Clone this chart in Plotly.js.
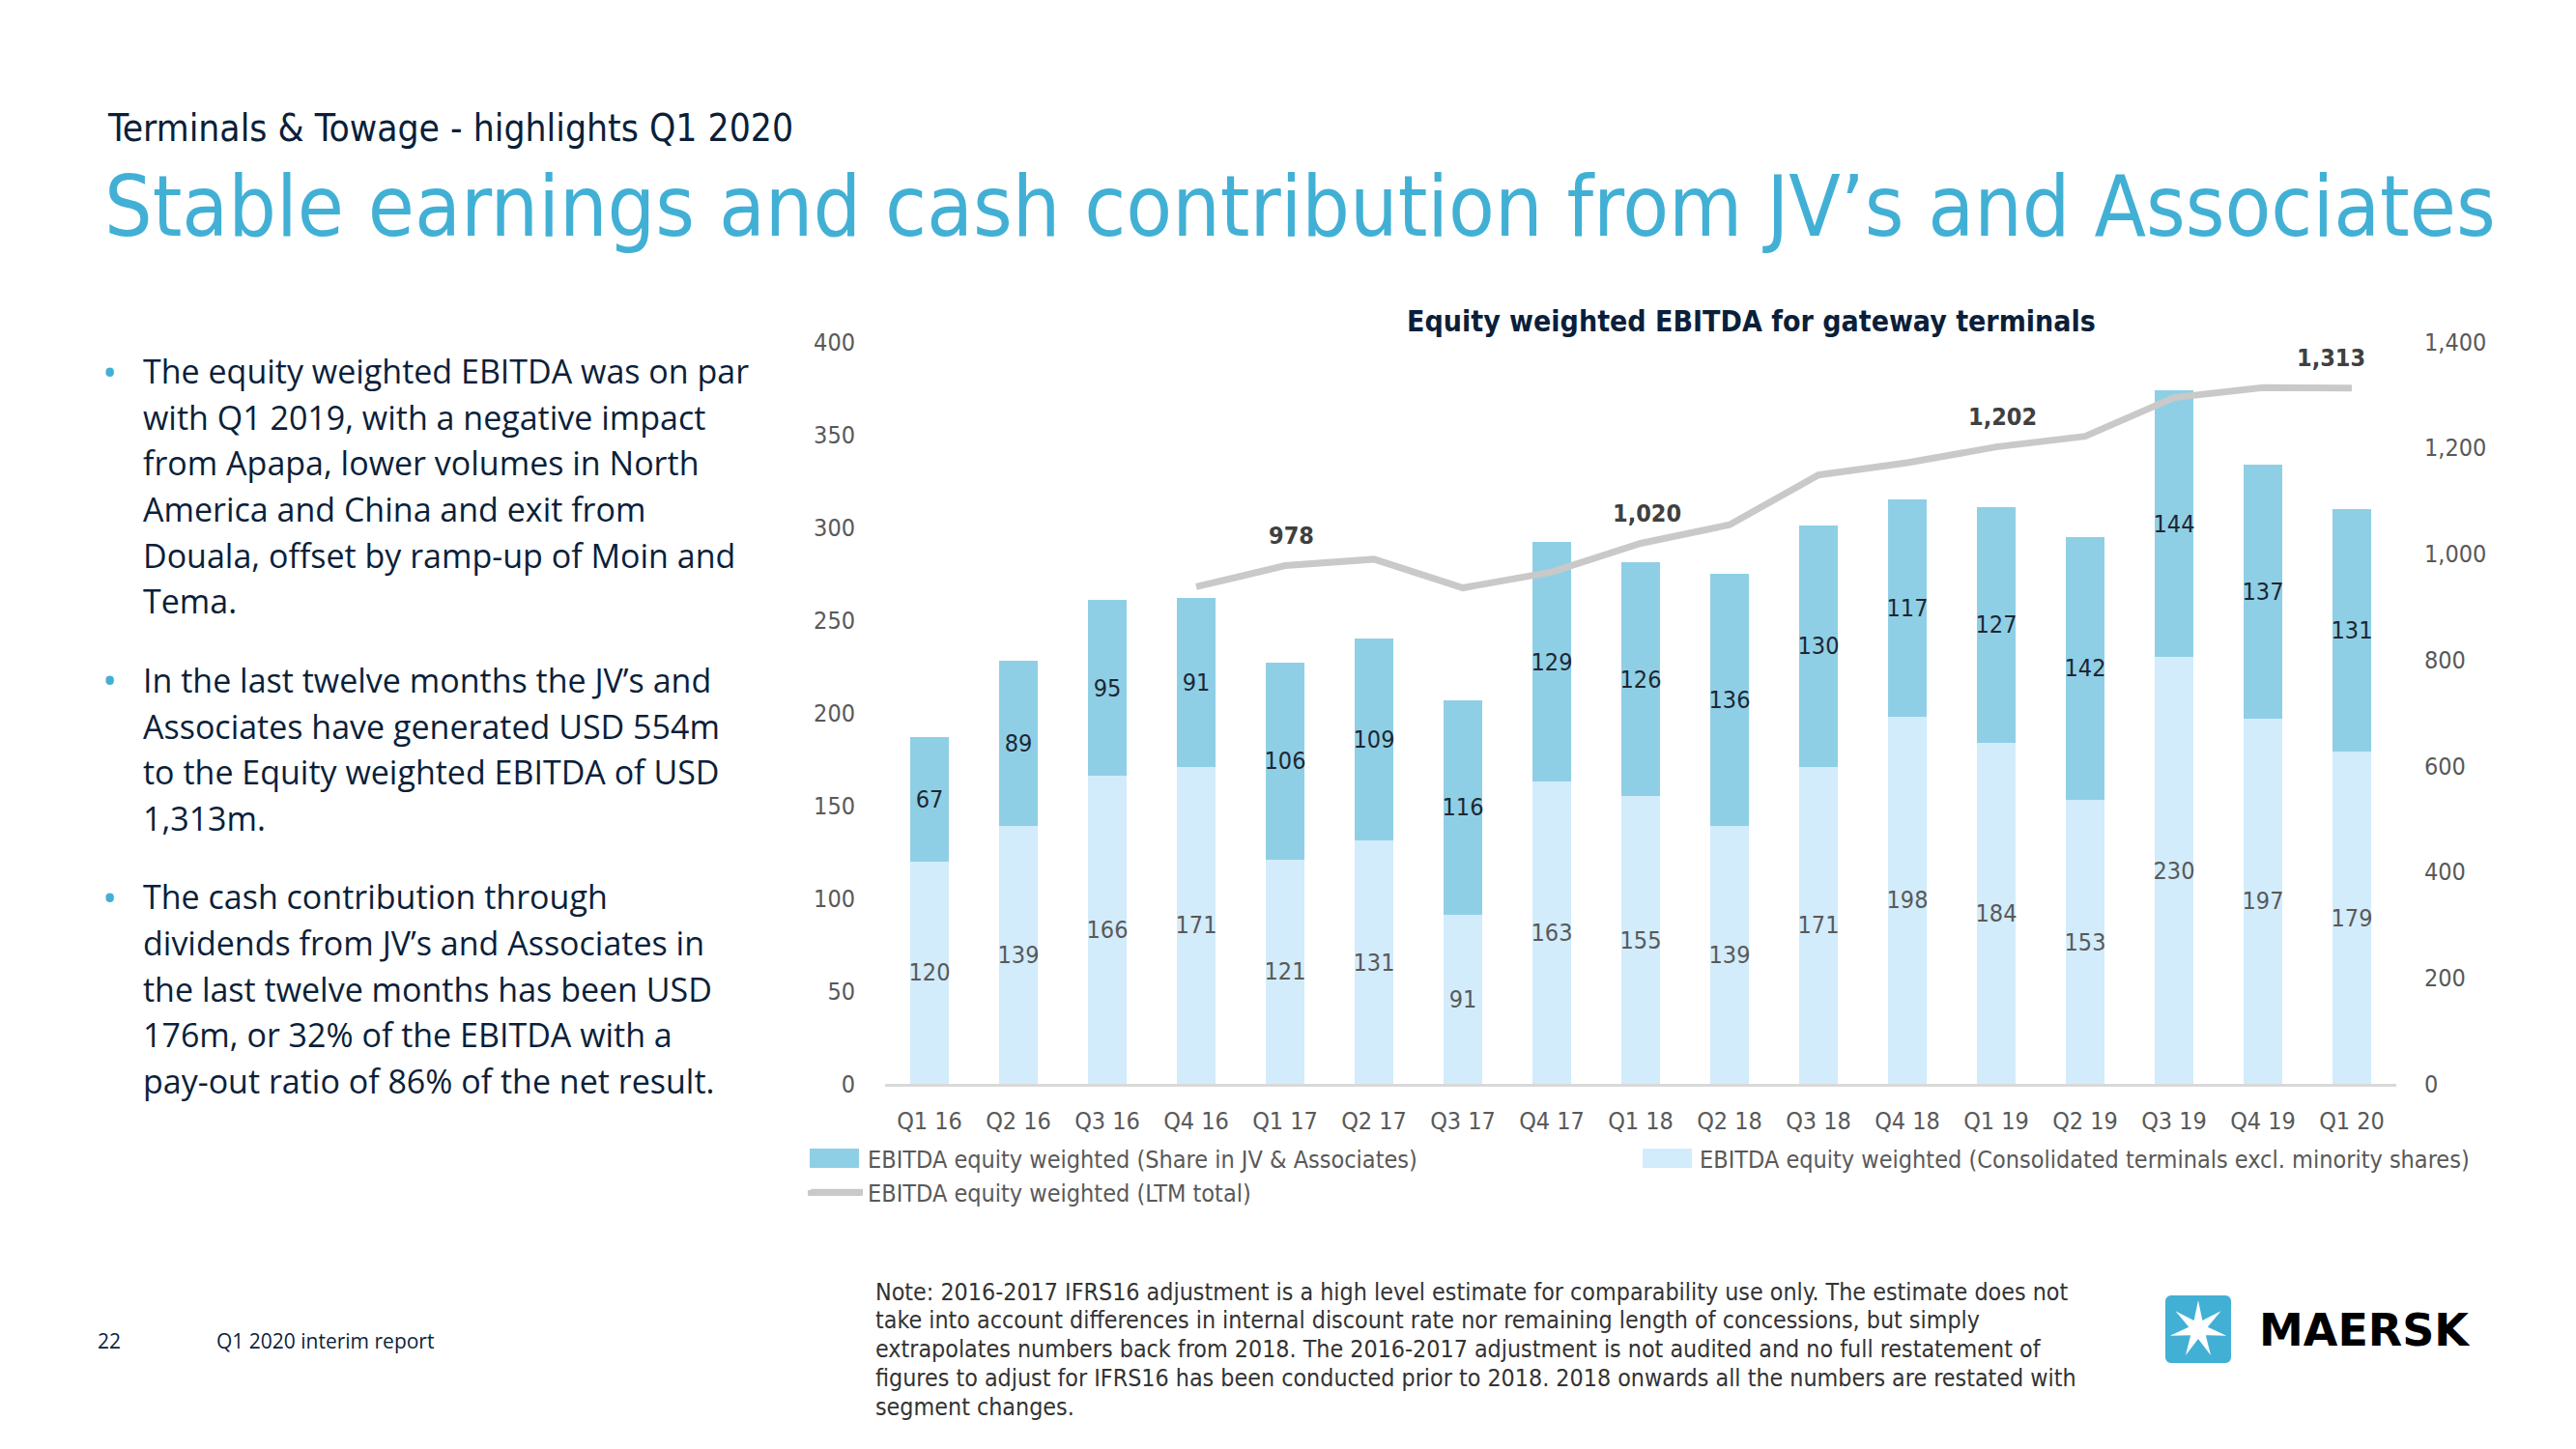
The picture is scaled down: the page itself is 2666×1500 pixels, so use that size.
<!DOCTYPE html>
<html>
<head>
<meta charset="utf-8">
<script src="https://cdn.plot.ly/plotly-3.0.1.min.js"></script>
<style>html,body{margin:0;padding:0;background:#fff;}#chart{width:2666px;height:1500px;}</style>
</head>
<body>
<div id="chart"></div>
<script>
// ---------- data ----------
const quarters = ['Q1 16','Q2 16','Q3 16','Q4 16','Q1 17','Q2 17','Q3 17','Q4 17','Q1 18','Q2 18','Q3 18','Q4 18','Q1 19','Q2 19','Q3 19','Q4 19','Q1 20'];
const consolidated = [120,139,166,171,121,131,91,163,155,139,171,198,184,153,230,197,179];
const jvShare = [67,89,95,91,106,109,116,129,126,136,130,117,127,142,144,137,131];
const ltmQuarters = ['Q4 16','Q1 17','Q2 17','Q3 17','Q4 17','Q1 18','Q2 18','Q3 18','Q4 18','Q1 19','Q2 19','Q3 19','Q4 19','Q1 20'];
const ltmTotal = [938,978,990,936,966,1020,1055,1149,1172,1202,1222,1295,1314,1313];
const ltmLabelQuarters = ['Q1 17','Q1 18','Q1 19','Q1 20'];
const leftTicks = [0,50,100,150,200,250,300,350,400];
const rightTicks = [0,200,400,600,800,1000,1200,1400];

const seriesNames = {
  jv: 'EBITDA equity weighted (Share in JV & Associates)',
  cons: 'EBITDA equity weighted (Consolidated terminals excl. minority shares)',
  ltm: 'EBITDA equity weighted (LTM total)'
};
const subtitle = 'Terminals &amp; Towage - highlights Q1 2020';
const mainTitle = 'Stable earnings and cash contribution from JV’s and Associates';
const chartTitle = 'Equity weighted EBITDA for gateway terminals';
const bullets = [
  ['The equity weighted EBITDA was on par','with Q1 2019, with a negative impact','from Apapa, lower volumes in North','America and China and exit from','Douala, offset by ramp-up of Moin and','Tema.'],
  ['In the last twelve months the JV’s and','Associates have generated USD 554m','to the Equity weighted EBITDA of USD','1,313m.'],
  ['The cash contribution through','dividends from JV’s and Associates in','the last twelve months has been USD','176m, or 32% of the EBITDA with a','pay-out ratio of 86% of the net result.']
];
const noteLines = [
  'Note: 2016-2017 IFRS16 adjustment is a high level estimate for comparability use only. The estimate does not',
  'take into account differences in internal discount rate nor remaining length of concessions, but simply',
  'extrapolates numbers back from 2018. The 2016-2017 adjustment is not audited and no full restatement of',
  'figures to adjust for IFRS16 has been conducted prior to 2018. 2018 onwards all the numbers are restated with',
  'segment changes.'
];
const pageNumber = '22';
const footerText = 'Q1 2020 interim report';
const brand = 'MAERSK';

// ---------- styles ----------
const NARROW = '"Liberation Sans Narrow", "DejaVu Sans Condensed", "Arial Narrow", sans-serif';
const BODY = '"Open Sans", "Noto Sans", sans-serif';
const C_DARK = '#8FCFE6', C_LIGHT = '#D2ECFB', C_LINE = '#C9C9C9', C_BLUE = '#42B0D5', C_NAVY = '#0B1F3A', C_GREY = '#595959';

const PL = 916, PR = 2480, PT = 354, PB = 1122;
const PW = PR - PL, PH = PB - PT;
const X = px => (px - PL) / PW;
const Y = py => (PB - py) / PH;

const traces = [
  {type:'bar', name: seriesNames.cons, x: quarters, y: consolidated, marker:{color:C_LIGHT},
   text: consolidated.map(String), textposition:'inside', insidetextanchor:'middle', textangle:0, constraintext:'none',
   textfont:{family:NARROW, size:25, color:C_GREY}, legendrank:2, hoverinfo:'skip'},
  {type:'bar', name: seriesNames.jv, x: quarters, y: jvShare, marker:{color:C_DARK},
   text: jvShare.map(String), textposition:'inside', insidetextanchor:'middle', textangle:0, constraintext:'none',
   textfont:{family:NARROW, size:25, color:'#1d2733'}, legendrank:1, hoverinfo:'skip'},
  {type:'scatter', mode:'lines', name: seriesNames.ltm, x: ltmQuarters, y: ltmTotal, yaxis:'y2',
   line:{color:C_LINE, width:7}, legendrank:3, hoverinfo:'skip'}
];

const annotations = [];
// LTM labels
ltmLabelQuarters.forEach((q, i) => {
  const v = ltmTotal[ltmQuarters.indexOf(q)];
  annotations.push({xref:'x', yref:'y2', x:q, y:v, text:'<b>' + v.toLocaleString('en-US') + '</b>', showarrow:false,
    yshift:31, xshift: (i === ltmLabelQuarters.length - 1 ? -22 : 6), font:{family:NARROW, size:25, color:'#404040'}});
});
// page text
annotations.push({xref:'paper', yref:'paper', x:X(109), y:Y(133), xanchor:'left', yanchor:'middle', text:subtitle, showarrow:false, font:{family:NARROW, size:38.7, color:C_NAVY}});
annotations.push({xref:'paper', yref:'paper', x:X(106), y:Y(214), xanchor:'left', yanchor:'middle', text:mainTitle, showarrow:false, font:{family:NARROW, size:87, color:C_BLUE}});
annotations.push({xref:'paper', yref:'paper', x:X(1812), y:Y(332), xanchor:'center', yanchor:'middle', text:'<b>' + chartTitle + '</b>', showarrow:false, font:{family:NARROW, size:30, color:C_NAVY}});
const bulletStarts = [226, 414, 546];
bullets.forEach((lines, b) => {
  const y0 = bulletStarts[b] * 1.7003;
  annotations.push({xref:'paper', yref:'paper', x:X(104), y:Y(y0), xanchor:'left', yanchor:'middle', text:'•', showarrow:false, font:{family:BODY, size:40, color:C_BLUE}});
  lines.forEach((ln, j) => {
    annotations.push({xref:'paper', yref:'paper', x:X(146), y:Y(y0 + j * 47.6), xanchor:'left', yanchor:'middle', text:ln, showarrow:false, font:{family:BODY, size:34, color:C_NAVY}});
  });
});
noteLines.forEach((ln, j) => {
  annotations.push({xref:'paper', yref:'paper', x:X(904), y:Y(1337 + j * 29.8), xanchor:'left', yanchor:'middle', text:ln, showarrow:false, font:{family:NARROW, size:24.8, color:'#333333'}});
});
annotations.push({xref:'paper', yref:'paper', x:X(99), y:Y(1388), xanchor:'left', yanchor:'middle', text:pageNumber, showarrow:false, font:{family:BODY, size:21, color:C_NAVY}});
annotations.push({xref:'paper', yref:'paper', x:X(222), y:Y(1388), xanchor:'left', yanchor:'middle', text:footerText, showarrow:false, font:{family:BODY, size:21, color:C_NAVY}});
annotations.push({xref:'paper', yref:'paper', x:X(2336), y:Y(1377), xanchor:'left', yanchor:'middle', text:'<b>' + brand + '</b>', showarrow:false, font:{family:'"DejaVu Sans", sans-serif', size:46, color:'#000000'}});

// logo shapes
function pathFromPixels(pts){ return 'M' + pts.map(p => X(p[0]).toFixed(5) + ',' + Y(p[1]).toFixed(5)).join('L') + 'Z'; }
function rectPx(x0, y0, x1, y1, color){ return {type:'rect', xref:'paper', yref:'paper', x0:X(x0), x1:X(x1), y0:Y(y1), y1:Y(y0), fillcolor:color, line:{width:0}, layer:'above'}; }
const lx0 = 2241, lx1 = 2309, ly0 = 1341, ly1 = 1411, rr = 6;
const sq = [];
const corners = [[lx1-rr, ly0+rr, -90], [lx1-rr, ly1-rr, 0], [lx0+rr, ly1-rr, 90], [lx0+rr, ly0+rr, 180]];
corners.forEach(c => { for (let a = 0; a <= 90; a += 15) { const t = (c[2] + a) * Math.PI / 180; sq.push([c[0] + rr*Math.cos(t), c[1] + rr*Math.sin(t)]); } });
const star = [];
const cx = (lx0+lx1)/2, cy = (ly0+ly1)/2;
for (let k = 0; k < 14; k++) {
  const r = k % 2 === 0 ? 30 : 10;
  const t = -Math.PI/2 + k * Math.PI / 7;
  star.push([cx + r*Math.cos(t), cy + r*Math.sin(t)]);
}
const shapes = [
  {type:'path', xref:'paper', yref:'paper', path: pathFromPixels(sq), fillcolor:C_BLUE, line:{width:0}},
  {type:'path', xref:'paper', yref:'paper', path: pathFromPixels(star), fillcolor:'#ffffff', line:{width:0}},
  // wide legend swatches (sit under the legend's own small symbols, same colours)
  rectPx(838, 1189, 889, 1209, C_DARK),
  rectPx(1700, 1189, 1751, 1209, C_LIGHT),
  rectPx(836, 1232, 890, 1238, C_LINE)
];

const layout = {
  width:2666, height:1500,
  margin:{l:PL, r:2666-PR, t:PT, b:1500-PB, pad:0},
  paper_bgcolor:'#ffffff', plot_bgcolor:'#ffffff',
  barmode:'stack', bargap:0.575,
  font:{family:NARROW, size:24, color:C_GREY},
  xaxis:{type:'category', showline:true, linecolor:'#D9D9D9', linewidth:3, ticks:'', showgrid:false, zeroline:false,
         tickfont:{family:NARROW, size:25, color:C_GREY}, ticklabelstandoff:14},
  yaxis:{range:[0,400], tickvals:leftTicks, showgrid:false, zeroline:false, showline:false, ticks:'',
         tickfont:{family:NARROW, size:25, color:C_GREY}, ticklabelstandoff:30},
  yaxis2:{range:[0,1400], tickvals:rightTicks, tickformat:',', overlaying:'y', side:'right', showgrid:false, zeroline:false, showline:false, ticks:'',
         tickfont:{family:NARROW, size:25, color:C_GREY}, ticklabelstandoff:28},
  showlegend:true,
  legend:{orientation:'h', x:X(834), xanchor:'left', y:Y(1176), yanchor:'top', bgcolor:'rgba(0,0,0,0)',
          font:{family:NARROW, size:25, color:C_GREY}, entrywidth:792, entrywidthmode:'pixels', traceorder:'normal', itemwidth:54, tracegroupgap:0},
  annotations: annotations,
  shapes: shapes
};

Plotly.newPlot('chart', traces, layout, {displayModeBar:false, staticPlot:true});
</script>
</body>
</html>
